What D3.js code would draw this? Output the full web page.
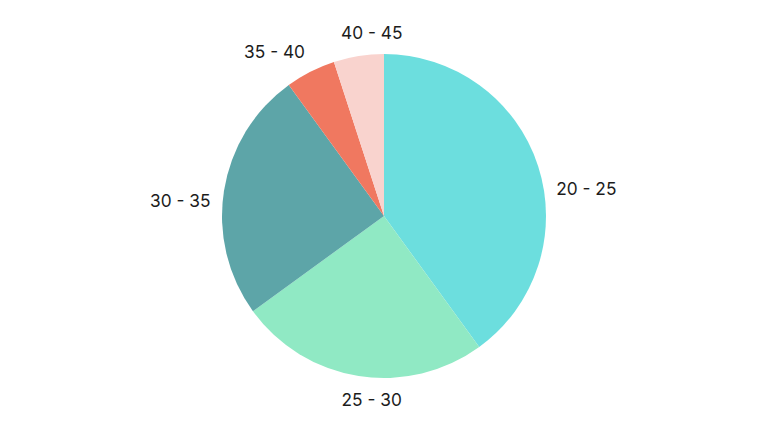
<!DOCTYPE html>
<html>
<head>
<meta charset="utf-8">
<script src="https://cdn.jsdelivr.net/npm/d3@7"></script>
<style>
  html, body { margin: 0; padding: 0; background: #fff; }
  svg { display: block; }
</style>
</head>
<body>
<svg id="chart" width="768" height="432"></svg>
<script>
const categories = ["20 - 25", "25 - 30", "30 - 35", "35 - 40", "40 - 45"];
const values = [40, 25, 25, 5, 5];
const colors = ["#6cdede", "#90e9c4", "#5da5a8", "#f07860", "#f9d3ce"];

const W = 768, H = 432;
const cx = 384, cy = 216, r = 162;
const svg = d3.select("#chart");
const g = svg.append("g").attr("transform", `translate(${cx},${cy})`);

const data = categories.map((c, i) => ({ label: c, value: values[i], color: colors[i] }));
const pie = d3.pie().value(d => d.value).sort(null);
const arcs = pie(data);
const arc = d3.arc().innerRadius(0).outerRadius(r);

g.selectAll("path.slice")
  .data(arcs)
  .join("path")
  .attr("class", "slice")
  .attr("d", arc)
  .attr("fill", d => d.data.color);

// Label placement: mid-angle, pulled toward a cardinal direction contained in the slice
const TAU = Math.PI * 2;
const cardinals = [0, Math.PI / 2, Math.PI, 1.5 * Math.PI, TAU];
function labelAngle(d) {
  const mid = (d.startAngle + d.endAngle) / 2;
  const inside = cardinals.filter(a => a >= d.startAngle - 1e-6 && a <= d.endAngle + 1e-6);
  if (!inside.length) return mid;
  let best = inside[0];
  inside.forEach(a => { if (Math.abs(a - mid) < Math.abs(best - mid)) best = a; });
  return mid + (best - mid) * 0.55;
}
const labelR = r + 12;

g.selectAll("text.lbl")
  .data(arcs)
  .join("text")
  .attr("class", "lbl")
  .each(function(d) {
    const a = labelAngle(d);
    const s = Math.sin(a), c = Math.cos(a);
    const x = labelR * s, y = -labelR * c;
    const anchor = s > 0.2 ? "start" : (s < -0.2 ? "end" : "middle");
    let dy;
    if (Math.abs(c) < 0.3) dy = "0.2em";
    else if (c > 0) dy = "-0.2em";
    else dy = "0.95em";
    d3.select(this)
      .attr("x", x).attr("y", y).attr("dy", dy)
      .attr("text-anchor", anchor)
      .text(d.data.label);
  })
  .attr("font-family", "Inter, 'Noto Sans', sans-serif")
  .attr("font-size", 17.3)
  .attr("fill", "#1c1c1c");
</script>
</body>
</html>
